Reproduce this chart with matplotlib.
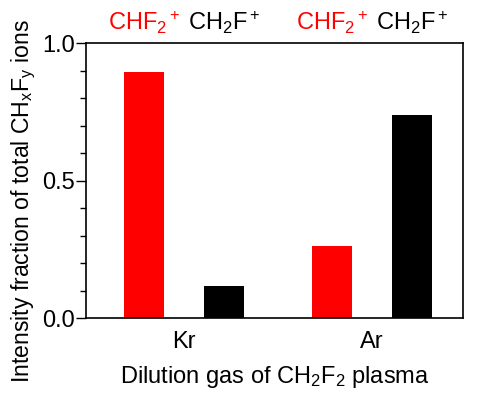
import matplotlib
matplotlib.use("Agg")
import matplotlib.pyplot as plt
from matplotlib.ticker import MultipleLocator, FormatStrFormatter

plt.rcParams['font.family'] = ['Liberation Sans', 'DejaVu Sans']
plt.rcParams['mathtext.fontset'] = 'custom'
plt.rcParams['mathtext.rm'] = 'Liberation Sans'
plt.rcParams['mathtext.it'] = 'Liberation Sans'
plt.rcParams['mathtext.default'] = 'regular'

gases = ['Kr', 'Ar']
chf2 = [0.895, 0.262]
ch2f = [0.115, 0.738]
series_labels = [r'CHF$_2{}^+$', r'CH$_2$F$^+$']
series_colors = ['#ff0000', '#000000']

fig = plt.figure(figsize=(4.78, 4.03), dpi=100)
ax = fig.add_axes([0.180, 0.2109, 0.7886, 0.6824])

x = list(range(len(gases)))
off = 0.213
w = 0.21
ax.bar([i - off for i in x], chf2, width=w, color=series_colors[0])
ax.bar([i + off for i in x], ch2f, width=w, color=series_colors[1])

ax.set_xlim(-0.521, 1.484)
ax.set_ylim(0, 1.0)
ax.set_xticks(x)
ax.set_xticklabels(gases, fontsize=17)
ax.tick_params(axis='x', length=0, pad=9)
ax.yaxis.set_major_locator(MultipleLocator(0.5))
ax.yaxis.set_minor_locator(MultipleLocator(0.1))
ax.yaxis.set_major_formatter(FormatStrFormatter('%.1f'))
ax.tick_params(axis='y', which='major', length=7, width=1, labelsize=17, direction='out', pad=1)
ax.tick_params(axis='y', which='minor', length=4, width=1, direction='out')
for s in ax.spines.values():
    s.set_linewidth(1.2)

ax.set_ylabel(r'Intensity fraction of total CH$_x$F$_y$ ions', fontsize=16.6)
ax.yaxis.set_label_coords(-0.127, 0.425)
ax.set_xlabel(r'Dilution gas of CH$_2$F$_2$ plasma', fontsize=17, labelpad=8)

for i in x:
    ax.text(i - off, 1.047, series_labels[0], color=series_colors[0], fontsize=17,
            ha='center', va='baseline', clip_on=False)
    ax.text(i + off, 1.047, series_labels[1], color=series_colors[1], fontsize=17,
            ha='center', va='baseline', clip_on=False)

fig.savefig('out.png', dpi=100)
